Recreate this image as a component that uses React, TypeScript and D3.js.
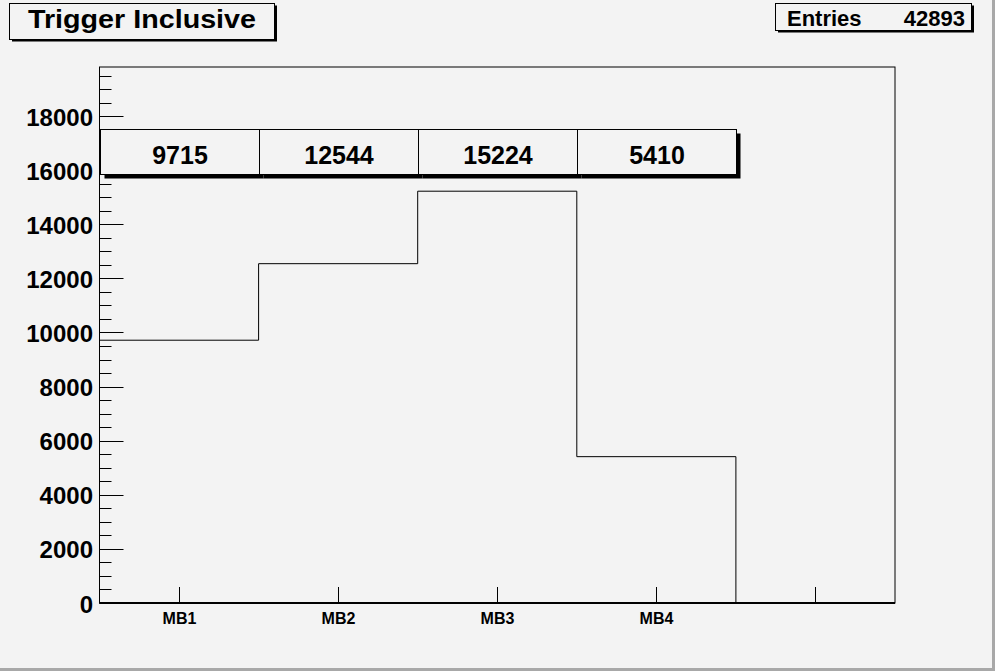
import React from "react";
import * as d3 from "d3";

const categories = ["MB1", "MB2", "MB3", "MB4", ""];
const counts = [9715, 12544, 15224, 5410, 0];
const yTicks = [0, 2000, 4000, 6000, 8000, 10000, 12000, 14000, 16000, 18000];
const title = "Trigger Inclusive";
const entriesLabel = "Entries";
const entriesValue = "42893";

const W = 995;
const H = 671;
const FONT = "'Liberation Sans', Arial, Helvetica, sans-serif";

export default function App() {
  const x0 = 99.5, x1 = 895, y0 = 603, y1 = 67;
  const yMax = 19815;
  const x = d3.scaleLinear().domain([0, categories.length]).range([x0, x1]);
  const y = d3.scaleLinear().domain([0, yMax]).range([y0, y1]);
  const minor = d3.range(0, yMax, 500);

  const pts: [number, number][] = [];
  counts.forEach((c, i) => {
    pts.push([x(i), y(c)]);
    pts.push([x(i + 1), y(c)]);
  });
  const line = d3.line();
  const nonEmpty = counts.filter((c) => c > 0).length;
  const stepPts = pts.slice(0, nonEmpty * 2);
  stepPts.push([x(nonEmpty), y(0)]);

  const boxTop = 129.5, boxBot = 174.5, sh = 4;

  return (
    <svg width={W} height={H} style={{ position: "absolute", left: 0, top: 0 }} fontFamily={FONT}>
      <rect x={0} y={0} width={W} height={H} fill="#f3f3f3" />
      <line x1={W - 1.5} y1={0} x2={W - 1.5} y2={H} stroke="#a8a8a8" strokeWidth={3} />
      <line x1={0} y1={H - 1.5} x2={W} y2={H - 1.5} stroke="#a8a8a8" strokeWidth={3} />

      <rect x={x0} y={y1} width={x1 - x0} height={y0 - y1} fill="none" stroke="#000" strokeWidth={1} />

      {minor.map((v) => {
        const major = v % 2000 === 0;
        return (
          <line key={v} x1={x0} x2={x0 + (major ? 24 : 12)} y1={Math.round(y(v)) + 0.5} y2={Math.round(y(v)) + 0.5} stroke="#000" />
        );
      })}
      {yTicks.map((v) => (
        <text key={v} x={93} y={y(v) + 9.5} textAnchor="end" fontSize={24} fontWeight="bold" fill="#000">
          {v}
        </text>
      ))}

      {categories.map((c, i) => {
        const cx = Math.round(x(i + 0.5)) + 0.5;
        return (
          <g key={i}>
            <line x1={cx} x2={cx} y1={y0} y2={y0 - 16} stroke="#000" />
            <text x={cx} y={624} textAnchor="middle" fontSize={16} fontWeight="bold" fill="#000">
              {c}
            </text>
          </g>
        );
      })}

      <path d={line(stepPts) || ""} fill="none" stroke="#000" strokeWidth={1} />
      <line x1={x0} x2={x1} y1={y0} y2={y0} stroke="#000" strokeWidth={2} />

      {counts.slice(0, nonEmpty).map((c, i) => {
        const bx = Math.round(x(i)) + 0.5;
        const bx2 = Math.round(x(i + 1)) + 0.5;
        return (
          <g key={"b" + i}>
            <rect x={bx + sh} y={boxTop + sh} width={bx2 - bx} height={boxBot - boxTop} fill="#000" />
            <rect x={bx} y={boxTop} width={bx2 - bx} height={boxBot - boxTop} fill="#f3f3f3" stroke="#000" />
            <text x={(bx + bx2) / 2} y={164} textAnchor="middle" fontSize={25} fontWeight="bold" fill="#000">
              {c}
            </text>
          </g>
        );
      })}

      <rect x={12} y={5.5} width={265} height={36} fill="#000" />
      <rect x={9.5} y={3.5} width={265} height={36} fill="#f3f3f3" stroke="#000" />
      <text x={28} y={28} fontSize={25} fontWeight="bold" fill="#000" textLength={228} lengthAdjust="spacingAndGlyphs">
        {title}
      </text>

      <rect x={778} y={5.5} width={196} height={27} fill="#000" />
      <rect x={775.5} y={3.5} width={196} height={27} fill="#f3f3f3" stroke="#000" />
      <text x={787} y={25.5} fontSize={22} fontWeight="bold" fill="#000">
        {entriesLabel}
      </text>
      <text x={965} y={25.5} textAnchor="end" fontSize={22} fontWeight="bold" fill="#000">
        {entriesValue}
      </text>
    </svg>
  );
}
